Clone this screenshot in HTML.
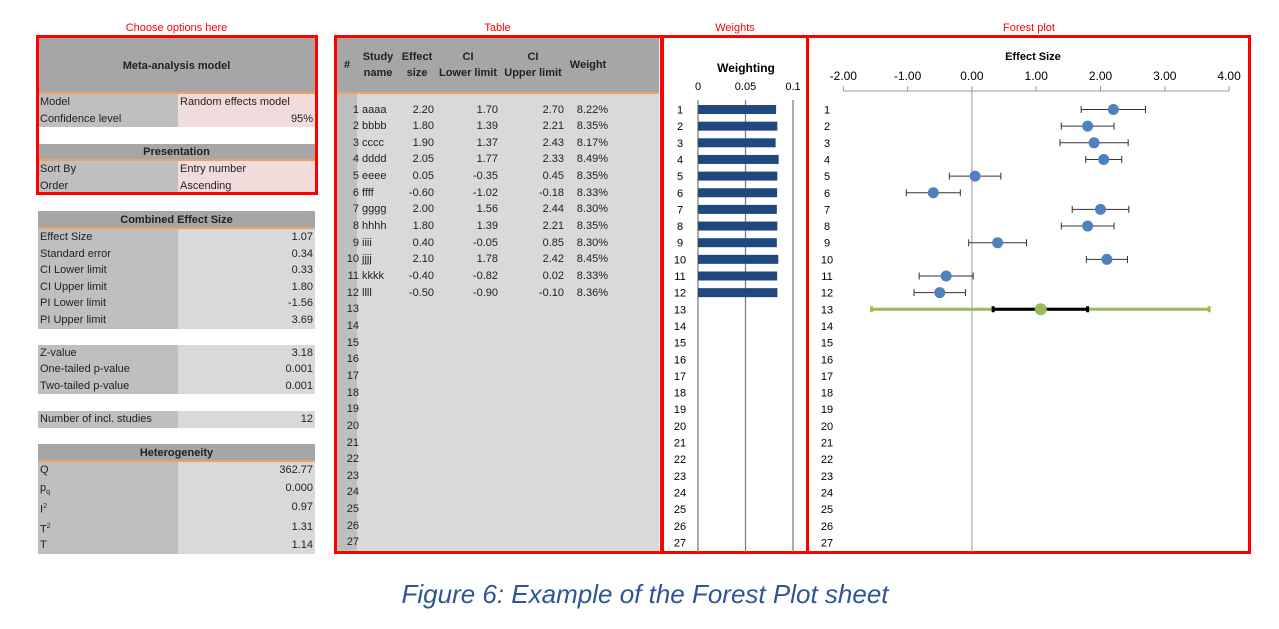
<!DOCTYPE html>
<html><head><meta charset="utf-8">
<style>
body{margin:0;width:1279px;height:629px;background:#fff;position:relative;font-family:"Liberation Sans",sans-serif;font-size:11px;color:#222;overflow:hidden}
.a{position:absolute;white-space:nowrap}
.sec{color:#f00;font-size:11px;text-align:center}
.box{position:absolute;border:3px solid #f00;box-sizing:border-box}
.hd{background:#a6a6a6;font-weight:bold;text-align:center;border-bottom:2px solid #f0a060;box-sizing:border-box}
.lab{background:#bfbfbf}
.val{background:#d9d9d9;text-align:right}
.pink{background:#f2dcdb}
</style></head><body>
<div class="a sec" style="left:36px;top:22px;width:281px">Choose options here</div>
<div class="a sec" style="left:334px;top:22px;width:327px">Table</div>
<div class="a sec" style="left:662px;top:22px;width:146px">Weights</div>
<div class="a sec" style="left:808px;top:22px;width:442px">Forest plot</div>

<div id="left"></div>
<div id="tbl"></div>

<div class="box" style="left:36px;top:35px;width:282px;height:160px"></div>
<div class="box" style="left:334px;top:35px;width:329px;height:519px"></div>
<div class="box" style="left:661px;top:35px;width:148px;height:519px"></div>
<div class="box" style="left:806px;top:35px;width:445px;height:519px"></div>

<svg id="plots" class="a" style="left:0;top:0" width="1279" height="629"></svg>

<div class="a" style="left:0;top:579px;width:1290px;text-align:center;font-style:italic;font-size:26px;color:#2f5597">Figure 6: Example of the Forest Plot sheet</div>

<script>
const names=["aaaa","bbbb","cccc","dddd","eeee","ffff","gggg","hhhh","iiii","jjjj","kkkk","llll"];
const effects=[2.20,1.80,1.90,2.05,0.05,-0.60,2.00,1.80,0.40,2.10,-0.40,-0.50];
const lowers=[1.70,1.39,1.37,1.77,-0.35,-1.02,1.56,1.39,-0.05,1.78,-0.82,-0.90];
const uppers=[2.70,2.21,2.43,2.33,0.45,-0.18,2.44,2.21,0.85,2.42,0.02,-0.10];
const weights=[0.0822,0.0835,0.0817,0.0849,0.0835,0.0833,0.0830,0.0835,0.0830,0.0845,0.0833,0.0836];
const combined=[1.07,0.33,1.80,-1.56,3.69]; // effect, CI lo, CI hi, PI lo, PI hi
const forestTicks=[-2,-1,0,1,2,3,4];
const weightTicks=[0,0.05,0.1];

const NS="http://www.w3.org/2000/svg";
const rowY=i=>109.5+i*16.65;
function div(parent,cls,l,t,w,h,txt,extra){const d=document.createElement('div');d.className='a '+cls;d.style.cssText=`left:${l}px;top:${t}px;width:${w}px;height:${h}px;line-height:${h}px;`+(extra||'');if(txt!==undefined)d.innerHTML=txt;parent.appendChild(d);return d;}

// left panel
const L=document.getElementById('left');
let h=div(L,'hd',38,38,277,56,'Meta-analysis model');

function pair(y,lab,val,pink,hh){hh=hh||16.6;const a=div(L,'lab',38,y,140,hh,lab,'padding-left:2px;box-sizing:border-box');
 const b=div(L,pink?'pink':'val',178,y,137,hh,val,'padding:0 2px;box-sizing:border-box;'+(pink===2?'text-align:left':'text-align:right'));}
pair(94,'Model','Random effects model',2);pair(110.6,'Confidence level','95%',1);
h=div(L,'hd',38,144,277,17,'Presentation');
pair(161,'Sort By','Entry number',2);pair(177.6,'Order','Ascending',2);
h=div(L,'hd',38,211,277,18,'Combined Effect Size');
[['Effect Size','1.07'],['Standard error','0.34'],['CI Lower limit','0.33'],['CI Upper limit','1.80'],['PI Lower limit','-1.56'],['PI Upper limit','3.69']].forEach((r,i)=>pair(229+i*16.6,r[0],r[1]));
[['Z-value','3.18'],['One-tailed p-value','0.001'],['Two-tailed p-value','0.001']].forEach((r,i)=>pair(345+i*16.3,r[0],r[1]));
pair(411,'Number of incl. studies','12');
h=div(L,'hd',38,444,277,18,'Heterogeneity');
[['Q','362.77',16.6],['p<sub style="font-size:7px">q</sub>','0.000',18],['I<sup style="font-size:7px">2</sup>','0.97',20],['T<sup style="font-size:7px">2</sup>','1.31',20],['T','1.14',17]].reduce((y,r)=>{pair(y,r[0],r[1],0,r[2]);return y+r[2];},462);

// table
const T=document.getElementById('tbl');
h=div(T,'hd',337,38,322,56,'','');
div(T,'',337,94,20,457,'','background:#bfbfbf');
div(T,'',357,94,302,457,'','background:#d9d9d9');
const hdrs=[[337,20,'#'],[360,36,'Study<br>name'],[398,38,'Effect<br>size'],[436,64,'CI<br>Lower limit'],[500,66,'CI<br>Upper limit'],[566,44,'Weight']];
hdrs.forEach(c=>{const d=div(T,'',c[0],50,c[1],30,c[2],'line-height:16px;text-align:center;font-weight:bold;white-space:normal;display:flex;align-items:center;justify-content:center');});
for(let i=0;i<27;i++){const y=rowY(i)-8;
 const n=div(T,'',337,y,22,16,String(i+1),'text-align:right');
 if(i<12){
  const cells=[[362,40,names[i],'left'],[398,36,effects[i].toFixed(2),'right'],[436,62,lowers[i].toFixed(2),'right'],[500,64,uppers[i].toFixed(2),'right'],[566,42,(weights[i]*100).toFixed(2)+'%','right']];
  cells.forEach(c=>{const d=div(T,'',c[0],y,c[1],16,c[2],'text-align:'+c[3]);});
 }}

// plots
const S=document.getElementById('plots');
function el(tag,attrs,txt){const e=document.createElementNS(NS,tag);for(const k in attrs)e.setAttribute(k,attrs[k]);if(txt!==undefined)e.textContent=txt;S.appendChild(e);return e;}
const wx=v=>698+v*950;
const fx=v=>971.9+v*64.3;
let t=el('text',{x:746,y:72,'text-anchor':'middle','font-weight':'bold','font-size':12,'font-family':'Liberation Sans'},'Weighting');

weightTicks.forEach(v=>{let l=el('line',{x1:wx(v),x2:wx(v),y1:100,y2:552,stroke:'#7f7f7f','stroke-width':1.3});
 
 let tx=el('text',{x:wx(v),y:90,'text-anchor':'middle','font-size':11,'font-family':'Liberation Sans'},String(v));
 });
for(let i=0;i<27;i++){
 let a=el('text',{x:680,y:rowY(i)+4,'text-anchor':'middle','font-size':11,'font-family':'Liberation Sans'},String(i+1));
 
 let b=el('text',{x:827,y:rowY(i)+4,'text-anchor':'middle','font-size':11,'font-family':'Liberation Sans'},String(i+1));
 }
weights.forEach((w,i)=>{let r=el('rect',{x:wx(0),y:rowY(i)-4.5,width:wx(w)-wx(0),height:9,fill:'#1f497d'});
 });

t=el('text',{x:1033,y:60,'text-anchor':'middle','font-weight':'bold','font-size':11,'font-family':'Liberation Sans'},'Effect Size');

let ax=el('line',{x1:fx(-2),x2:fx(4),y1:91,y2:91,stroke:'#999'});

forestTicks.forEach(v=>{let l=el('line',{x1:fx(v),x2:fx(v),y1:86,y2:91,stroke:'#999'});
 
 let tx=el('text',{x:fx(v),y:80,'text-anchor':'middle','font-size':12,'font-family':'Liberation Sans'},v.toFixed(2));
 });
let z=el('line',{x1:fx(0),x2:fx(0),y1:91,y2:552,stroke:'#999'});

effects.forEach((e,i)=>{const y=rowY(i);
 let g=el('path',{d:`M${fx(lowers[i])},${y}H${fx(uppers[i])}M${fx(lowers[i])},${y-3.5}v7M${fx(uppers[i])},${y-3.5}v7`,stroke:'#333','stroke-width':1,fill:'none'});
 
 let c=el('circle',{cx:fx(e),cy:y,r:5.5,fill:'#4f81bd'});
 });
const cy=rowY(12);
let pi=el('path',{d:`M${fx(combined[3])},${cy}H${fx(combined[4])}M${fx(combined[3])},${cy-3}v6M${fx(combined[4])},${cy-3}v6`,stroke:'#9bbb59','stroke-width':3,fill:'none'});

let ci=el('path',{d:`M${fx(combined[1])},${cy}H${fx(combined[2])}M${fx(combined[1])},${cy-3}v6M${fx(combined[2])},${cy-3}v6`,stroke:'#000','stroke-width':3,fill:'none'});

let cp=el('circle',{cx:fx(combined[0]),cy:cy,r:6,fill:'#9bbb59'});

</script>
</body></html>
